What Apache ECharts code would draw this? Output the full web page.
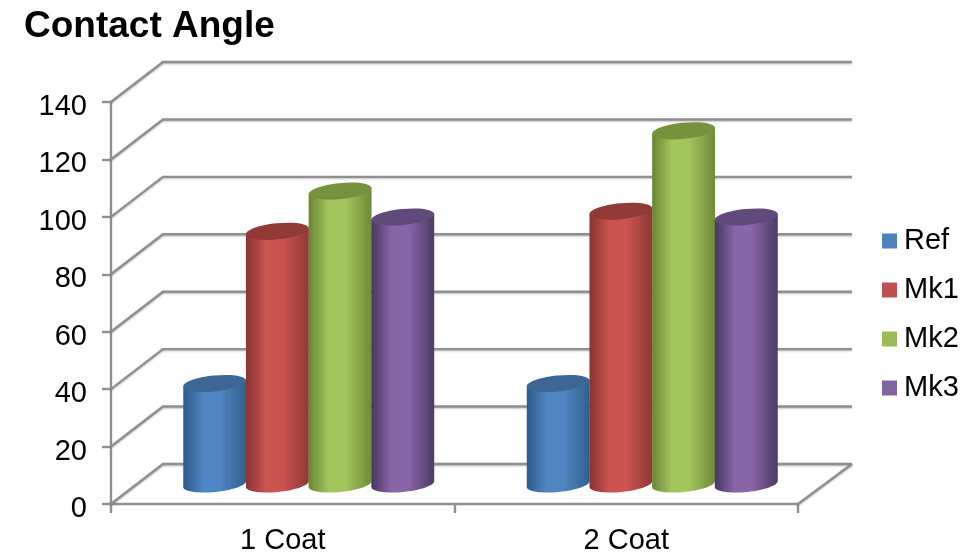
<!DOCTYPE html>
<html>
<head>
<meta charset="utf-8">
<style>html,body{margin:0;padding:0;background:#fff}#chart{width:980px;height:553px}</style>
<script src="https://cdn.jsdelivr.net/npm/echarts@6/dist/echarts.min.js"></script>
</head>
<body>
<div id="chart"></div>
<script>
const categories = ['1 Coat', '2 Coat'];
const ref = [35, 35];
const mk1 = [88, 95];
const mk2 = [102, 123];
const mk3 = [93, 93];
const wallTicks = [0, 20, 40, 60, 80, 100, 120, 140];

// Shaded tube colours: edge, highlight, far edge, lid
const tones = {
  Ref: ['#2c5a8b', '#5085c3', '#335f8f', '#3c6794'],
  Mk1: ['#873331', '#cb5451', '#8f3836', '#923a38'],
  Mk2: ['#6b8534', '#a3c55e', '#6f8a37', '#76923c'],
  Mk3: ['#483660', '#8965a9', '#4d3a66', '#604a7b']
};
const swatch = { Ref: '#4f81bd', Mk1: '#c0504d', Mk2: '#9bbb59', Mk3: '#8064a2' };

// Oblique projection used for the floor, wall and tubes
const DEPTH_X = 52, DEPTH_Y = -40, TILT = 0.1, LID_RY = 8;
const TUBE_SHARE = 0.184, STEP_SHARE = 0.1825;
const RULE_COLOR = '#8f8f8f', RULE_WIDTH = 2.4;

function wallLine(params, api) {
  const v = api.value(0);
  const band = api.size([1, 0])[0];
  const a = api.coord([0, v]), b = api.coord([1, v]);
  const x0 = a[0] - band / 2, x1 = b[0] + band / 2, y = a[1];
  const lines = [[[x0, y], [x0 + DEPTH_X, y + DEPTH_Y], [x1 + DEPTH_X + 2, y + DEPTH_Y]]];
  if (v === 0) lines.push([[x1, y], [x1 + DEPTH_X + 2, y + DEPTH_Y]]);
  return {
    type: 'group',
    children: lines.map(points => ({
      type: 'polyline',
      shape: { points },
      style: { fill: 'none', stroke: RULE_COLOR, lineWidth: RULE_WIDTH, shadowBlur: 2, shadowColor: 'rgba(0,0,0,0.25)', shadowOffsetY: 1 }
    }))
  };
}

function tubeRenderer(name, index) {
  const c = tones[name];
  return function (params, api) {
    const band = api.size([1, 0])[0];
    const top = api.coord([api.value(0), api.value(1)]);
    const base = api.coord([api.value(0), 0]);
    const rx = band * TUBE_SHARE / 2;
    const cx = top[0] + DEPTH_X / 2 + (index - 1.5) * band * STEP_SHARE;
    const topY = top[1] + DEPTH_Y / 2, baseY = base[1] + DEPTH_Y / 2;
    const cos = Math.cos(TILT), sin = Math.sin(TILT);
    const pts = [[cx - rx * cos, topY + rx * sin]];
    for (let i = 0; i <= 32; i++) {
      const t = Math.PI - (i / 32) * Math.PI;
      const ex = rx * Math.cos(t), ey = LID_RY * Math.sin(t);
      pts.push([cx + ex * cos + ey * sin, baseY - ex * sin + ey * cos]);
    }
    pts.push([cx + rx * cos, topY - rx * sin]);
    const body = {
      type: 'linear', x: cx - rx, y: 0, x2: cx + rx, y2: 0, global: true,
      colorStops: [
        { offset: 0, color: c[0] }, { offset: 0.32, color: c[1] },
        { offset: 0.58, color: c[1] }, { offset: 1, color: c[2] }
      ]
    };
    return {
      type: 'group',
      children: [
        { type: 'polygon', shape: { points: pts }, style: { fill: body } },
        { type: 'ellipse', x: cx, y: topY, rotation: TILT,
          shape: { cx: 0, cy: 0, rx: rx, ry: LID_RY }, style: { fill: c[3] } }
      ]
    };
  };
}

const tubeSeries = [['Ref', ref], ['Mk1', mk1], ['Mk2', mk2], ['Mk3', mk3]].map(([name, values], i) => ({
  name,
  type: 'custom',
  coordinateSystem: 'cartesian2d',
  renderItem: tubeRenderer(name, i),
  itemStyle: { color: swatch[name] },
  encode: { x: 0, y: 1 },
  z: 5 + i,
  data: values.map((v, k) => [k, v])
}));

const chart = echarts.init(document.getElementById('chart'));
chart.setOption({
  animation: false,
  backgroundColor: '#fff',
  textStyle: { fontFamily: '"Liberation Sans", Arial, sans-serif' },
  title: {
    text: 'Contact Angle', left: 19, top: 3,
    textStyle: { fontFamily: '"Liberation Sans", Arial, sans-serif', fontSize: 37, fontWeight: 'bold', color: '#000' }
  },
  legend: {
    orient: 'vertical', left: 877, top: 221, itemWidth: 15, itemHeight: 15, itemGap: 19,
    icon: 'rect', selectedMode: false,
    data: ['Ref', 'Mk1', 'Mk2', 'Mk3'],
    textStyle: { fontSize: 29, lineHeight: 30, color: '#000', padding: [0, 0, 0, 2] }
  },
  grid: { left: 111, right: 182, top: 102, bottom: 49, outerBoundsMode: 'none' },
  xAxis: {
    type: 'category', data: categories,
    axisLine: { lineStyle: { color: RULE_COLOR, width: RULE_WIDTH } },
    axisTick: { show: true, length: 9, lineStyle: { color: RULE_COLOR, width: RULE_WIDTH } },
    axisLabel: { fontSize: 29, color: '#000', margin: 22 }
  },
  yAxis: {
    type: 'value', min: 0, max: 140, interval: 20,
    axisLine: { show: true, lineStyle: { color: RULE_COLOR, width: RULE_WIDTH } },
    axisTick: { show: true, length: 9, lineStyle: { color: RULE_COLOR, width: RULE_WIDTH } },
    axisLabel: { fontSize: 29, color: '#000', margin: 24, verticalAlign: 'top', lineHeight: 10 },
    splitLine: { show: false }
  },
  series: [{
    type: 'custom', coordinateSystem: 'cartesian2d', renderItem: wallLine, silent: true, z: 1,
    encode: { y: 0 }, data: wallTicks.map(v => [v])
  }].concat(tubeSeries)
});
</script>
</body>
</html>
